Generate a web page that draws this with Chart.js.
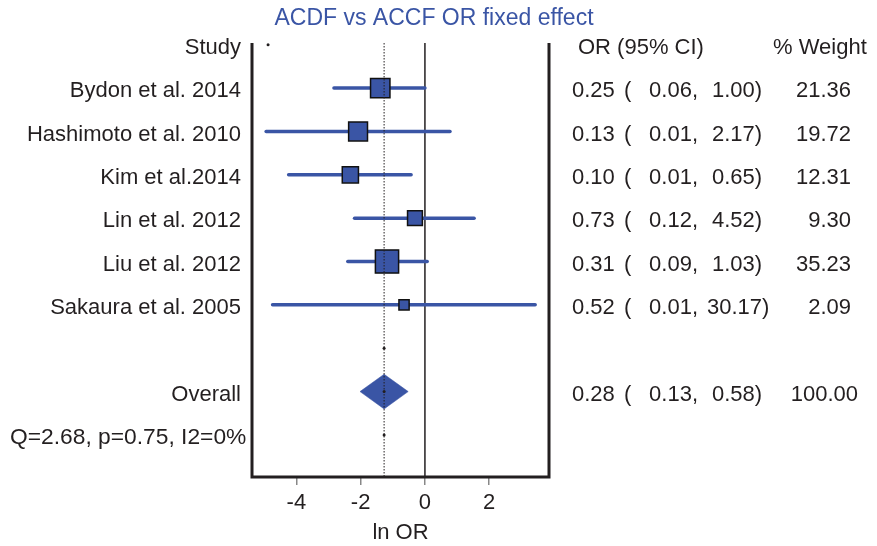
<!DOCTYPE html>
<html>
<head>
<meta charset="utf-8">
<script src="https://cdn.jsdelivr.net/npm/chart.js@4"></script>
<style>
  body { margin: 0; background: #fff; }
</style>
</head>
<body>
<canvas id="forest" width="877" height="546"></canvas>
<script>
const studies = ['Bydon et al. 2014', 'Hashimoto et al. 2010', 'Kim et al.2014',
                 'Lin et al. 2012', 'Liu et al. 2012', 'Sakaura et al. 2005'];
const lnOR = [-1.39, -2.08, -2.32, -0.31, -1.18, -0.65];
const lnLow = [-2.83, -4.94, -4.24, -2.19, -2.40, -4.74];
const lnHigh = [0.00, 0.78, -0.43, 1.53, 0.07, 3.43];
const weights = [21.36, 19.72, 12.31, 9.30, 35.23, 2.09];

const orText = ['0.25', '0.13', '0.10', '0.73', '0.31', '0.52'];
const lowText = ['0.06', '0.01', '0.01', '0.12', '0.09', '0.01'];
const highText = ['1.00', '2.17', '0.65', '4.52', '1.03', '30.17'];
const weightText = ['21.36', '19.72', '12.31', '9.30', '35.23', '2.09'];

// pooled estimate
const overallLn = -1.27;
const overallLow = -2.02;
const overallHigh = -0.52;
const overallText = ['0.28', '0.13', '0.58', '100.00'];
const heterogeneity = 'Q=2.68, p=0.75, I2=0%';

const xTicks = [-4, -2, 0, 2];

const BLUE = '#3a55a5';
const INK = '#231f20';
const FONT = '"Liberation Sans", Arial, sans-serif';
const overallRow = studies.length + 2;

const ciSets = studies.map((s, i) => ({
  type: 'scatter',
  data: [{x: lnLow[i], y: i + 1}, {x: lnHigh[i], y: i + 1}],
  showLine: true,
  borderColor: BLUE,
  borderWidth: 3.5,
  borderCapStyle: 'round',
  pointRadius: 0,
  order: 3
}));

const forestText = {
  id: 'forestText',
  beforeDatasetsDraw(chart) {
    const {ctx, chartArea: a, scales: {x}} = chart;
    ctx.save();
    ctx.strokeStyle = INK;
    ctx.lineWidth = 1.5;
    ctx.beginPath();
    ctx.moveTo(x.getPixelForValue(0), a.top);
    ctx.lineTo(x.getPixelForValue(0), a.bottom);
    ctx.stroke();
    ctx.restore();
  },
  afterDatasetsDraw(chart) {
    const {ctx, chartArea: a, scales: {x, y}} = chart;
    ctx.save();
    // dotted line at pooled estimate
    ctx.strokeStyle = INK;
    ctx.lineWidth = 1;
    ctx.setLineDash([1.5, 1.5]);
    ctx.beginPath();
    ctx.moveTo(x.getPixelForValue(overallLn), a.top);
    ctx.lineTo(x.getPixelForValue(overallLn), a.bottom);
    ctx.stroke();
    ctx.setLineDash([]);

    // frame: left, right, bottom
    ctx.lineWidth = 3;
    ctx.beginPath();
    ctx.moveTo(a.left, a.top);
    ctx.lineTo(a.left, a.bottom);
    ctx.lineTo(a.right, a.bottom);
    ctx.lineTo(a.right, a.top);
    ctx.stroke();

    ctx.font = '22px ' + FONT;
    ctx.fillStyle = INK;
    ctx.textBaseline = 'middle';

    const rowY = r => y.getPixelForValue(r) + 3;

    ctx.textAlign = 'right';
    ctx.fillText('Study', 241, rowY(0));
    studies.forEach((s, i) => ctx.fillText(s, 241, rowY(i + 1)));
    ctx.fillText('Overall', 241, rowY(overallRow));
    ctx.textAlign = 'left';
    ctx.font = '22.8px ' + FONT;
    ctx.fillText(heterogeneity, 10, rowY(overallRow + 1));
    ctx.font = '22px ' + FONT;

    ctx.fillText('OR (95% CI)', 578, rowY(0));
    ctx.fillText('% Weight', 773, rowY(0));

    const tableRow = (r, or, lo, hi, w, wRight) => {
      ctx.textAlign = 'left';
      ctx.fillText(or, 572, r);
      ctx.fillText('(', 624, r);
      ctx.textAlign = 'right';
      ctx.fillText(lo + ',', 698, r);
      ctx.textAlign = 'left';
      ctx.fillText(hi + ')', hi.length > 4 ? 707 : 712, r);
      ctx.textAlign = 'right';
      ctx.fillText(w, wRight, r);
    };
    studies.forEach((s, i) => tableRow(rowY(i + 1), orText[i], lowText[i], highText[i], weightText[i], 851));
    tableRow(rowY(overallRow), overallText[0], overallText[1], overallText[2], overallText[3], 858);

    // title
    ctx.fillStyle = BLUE;
    ctx.font = '23px ' + FONT;
    ctx.textAlign = 'center';
    ctx.fillText('ACDF vs ACCF OR fixed effect', 434, 19);
    ctx.restore();
  }
};

new Chart(document.getElementById('forest'), {
  type: 'scatter',
  data: {
    datasets: [
      {
        // study squares, side grows with weight
        data: studies.map((s, i) => ({x: lnOR[i], y: i + 1})),
        pointStyle: 'rect',
        pointRadius: weights.map(w => (6 + 2.9 * Math.sqrt(w)) / Math.SQRT2),
        pointHoverRadius: weights.map(w => (6 + 2.9 * Math.sqrt(w)) / Math.SQRT2),
        backgroundColor: BLUE,
        borderColor: '#111',
        borderWidth: 1.5,
        order: 1
      },
      {
        // pooled diamond
        data: [
          {x: overallLow, y: overallRow},
          {x: overallLn, y: overallRow - 0.4},
          {x: overallHigh, y: overallRow},
          {x: overallLn, y: overallRow + 0.4},
          {x: overallLow, y: overallRow}
        ],
        showLine: true,
        fill: 'shape',
        backgroundColor: BLUE,
        borderColor: BLUE,
        borderWidth: 0.5,
        pointRadius: 0,
        order: 2
      },
      {
        data: [{x: -4.88, y: 0}, {x: overallLn, y: overallRow - 1},
               {x: overallLn, y: overallRow}, {x: overallLn, y: overallRow + 1}],
        pointRadius: 1.5,
        backgroundColor: INK,
        borderWidth: 0,
        order: 0
      },
      ...ciSets
    ]
  },
  options: {
    responsive: false,
    devicePixelRatio: 1,
    animation: false,
    layout: {padding: {left: 252, right: 328, top: 43, bottom: 0}},
    plugins: {legend: {display: false}, tooltip: {enabled: false}},
    scales: {
      x: {
        type: 'linear',
        min: -5.38,
        max: 3.86,
        afterBuildTicks: s => { s.ticks = xTicks.map(v => ({value: v})); },
        afterFit: s => { s.height = 69; },
        border: {display: false},
        grid: {drawOnChartArea: false, drawTicks: true, tickLength: 8, color: '#888', lineWidth: 1.5},
        ticks: {color: INK, font: {family: FONT, size: 22}, padding: 5},
        title: {display: true, text: 'ln OR', color: INK, font: {family: FONT, size: 22}, padding: {top: 1, bottom: 0}}
      },
      y: {
        type: 'linear',
        reverse: true,
        min: -0.04,
        max: 9.97,
        display: false
      }
    }
  },
  plugins: [forestText]
});
</script>
</body>
</html>
